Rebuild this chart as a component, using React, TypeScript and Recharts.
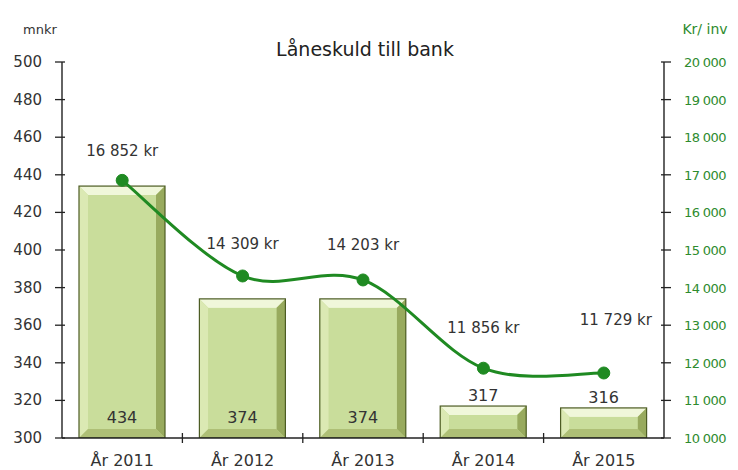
import React from 'react'
import { ComposedChart, Bar, Line, XAxis, YAxis, LabelList } from 'recharts'

const years = ['År 2011', 'År 2012', 'År 2013', 'År 2014', 'År 2015']
const debt = [434, 374, 374, 317, 316]
const perCapita = [16852, 14309, 14203, 11856, 11729]
const leftTicks = [300, 320, 340, 360, 380, 400, 420, 440, 460, 480, 500]
const rightTicks = [10000, 11000, 12000, 13000, 14000, 15000, 16000, 17000, 18000, 19000, 20000]

// Excel put the line labels at uneven heights above the points
const lineLabelLift = [24, 27, 30, 35, 48]
const lineLabelShift = [0, 0, 0, 0, 12]

const data = years.map((year, i) => ({ year, debt: debt[i], perCapita: perCapita[i] }))

const W = 738
const H = 470
const LEFT = 62
const RIGHT = 74
const TOP = 62
const BOTTOM = 32
const band = (W - LEFT - RIGHT) / years.length

const FONT = '"DejaVu Sans", Verdana, sans-serif'
const GREEN = '#1f8a22'
const TEXT = '#333'

const fmt = (v: number) => v.toLocaleString('en-US').replace(/,/g, ' ')

// Excel-like smoothed line (Catmull-Rom through the points)
function smoothCurve(context: any) {
  let pts: number[][] = []
  return {
    areaStart() {},
    areaEnd() {},
    lineStart() {
      pts = []
    },
    point(x: number, y: number) {
      pts.push([+x, +y])
    },
    lineEnd() {
      if (!pts.length) return
      context.moveTo(pts[0][0], pts[0][1])
      for (let i = 0; i < pts.length - 1; i++) {
        const p0 = pts[i - 1] || pts[i]
        const p1 = pts[i]
        const p2 = pts[i + 1]
        const p3 = pts[i + 2] || p2
        context.bezierCurveTo(
          p1[0] + (p2[0] - p0[0]) / 6,
          p1[1] + (p2[1] - p0[1]) / 6,
          p2[0] - (p3[0] - p1[0]) / 6,
          p2[1] - (p3[1] - p1[1]) / 6,
          p2[0],
          p2[1]
        )
      }
    },
  }
}

function BevelBar(props: any) {
  const { x, y, width, height } = props
  if (!height || height <= 0) return null
  const b = Math.min(9, height / 3)
  return (
    <g>
      <rect x={x} y={y} width={width} height={height} fill="#c4d993" />
      <polygon points={`${x},${y} ${x + width},${y} ${x + width - b},${y + b} ${x + b},${y + b}`} fill="#f0f7da" />
      <polygon points={`${x},${y} ${x + b},${y + b} ${x + b},${y + height - b} ${x},${y + height}`} fill="#dbe9b3" />
      <polygon points={`${x + width},${y} ${x + width},${y + height} ${x + width - b},${y + height - b} ${x + width - b},${y + b}`} fill="#98aa5e" />
      <polygon points={`${x},${y + height} ${x + b},${y + height - b} ${x + width - b},${y + height - b} ${x + width},${y + height}`} fill="#aebf76" />
      <rect x={x + b} y={y + b} width={width - 2 * b} height={height - 2 * b} fill="#c9dd9b" />
      <rect x={x} y={y} width={width} height={height} fill="none" stroke="#4d5c24" strokeWidth={1.2} />
    </g>
  )
}

function BarValueLabel(props: any) {
  const { x, y, width, height, value } = props
  const inside = height > 40
  const ty = inside ? y + height - 15 : y - 5
  return (
    <text x={x + width / 2} y={ty} textAnchor="middle" fontFamily={FONT} fontSize={16} fill={TEXT}>
      {value}
    </text>
  )
}

function LineValueLabel(props: any) {
  const { x, y, value, index } = props
  return (
    <text
      x={x + (lineLabelShift[index] || 0)}
      y={y - lineLabelLift[index]}
      textAnchor="middle"
      fontFamily={FONT}
      fontSize={15}
      fill={TEXT}
    >
      {fmt(value)} kr
    </text>
  )
}

function LeftTick(props: any) {
  const { x, y, payload } = props
  return (
    <g>
      <line x1={x - 5} x2={x + 5} y1={y} y2={y} stroke="#222" strokeWidth={1.3} />
      <text x={x - 18} y={y} dy={5} textAnchor="end" fontFamily={FONT} fontSize={15} fill={TEXT}>
        {payload.value}
      </text>
    </g>
  )
}

function RightTick(props: any) {
  const { x, y, payload } = props
  return (
    <g>
      <line x1={x - 5} x2={x + 5} y1={y} y2={y} stroke="#222" strokeWidth={1.3} />
      <text x={x + 18} y={y} dy={5} textAnchor="start" fontFamily={FONT} fontSize={13} letterSpacing={-0.6} fill="#2e8b2e">
        {fmt(payload.value)}
      </text>
    </g>
  )
}

function CategoryTick(props: any) {
  const { x, y, payload, index } = props
  const edge = x + band / 2
  return (
    <g>
      {index < years.length - 1 && (
        <line x1={edge} x2={edge} y1={y - 7} y2={y + 3} stroke="#222" strokeWidth={1.3} />
      )}
      <text x={x} y={y + 26} textAnchor="middle" fontFamily={FONT} fontSize={16} fill={TEXT}>
        {payload.value}
      </text>
    </g>
  )
}

export default function App() {
  return (
    <div style={{ position: 'absolute', left: 0, top: 0, width: W, height: H, background: '#fff' }}>
      <ComposedChart
        width={W}
        height={H}
        data={data}
        margin={{ top: TOP, right: 0, bottom: 0, left: 0 }}
      >
        <XAxis
          dataKey="year"
          height={BOTTOM}
          tickLine={false}
          tickSize={0}
          axisLine={{ stroke: '#222', strokeWidth: 1.4 }}
          tick={<CategoryTick />}
          interval={0}
        />
        <YAxis
          yAxisId="left"
          width={LEFT}
          domain={[300, 500]}
          ticks={leftTicks}
          interval={0}
          tickLine={false}
          tickSize={0}
          axisLine={{ stroke: '#222', strokeWidth: 1.4 }}
          tick={<LeftTick />}
          allowDataOverflow
        />
        <YAxis
          yAxisId="right"
          orientation="right"
          width={RIGHT}
          domain={[10000, 20000]}
          ticks={rightTicks}
          interval={0}
          tickLine={false}
          tickSize={0}
          axisLine={{ stroke: '#222', strokeWidth: 1.4 }}
          tick={<RightTick />}
        />
        <Bar yAxisId="left" dataKey="debt" barSize={86} shape={<BevelBar />} isAnimationActive={false}>
          <LabelList dataKey="debt" content={<BarValueLabel />} />
        </Bar>
        <Line
          yAxisId="right"
          type={smoothCurve as any}
          dataKey="perCapita"
          stroke={GREEN}
          strokeWidth={3}
          dot={{ r: 6, fill: GREEN, stroke: GREEN, strokeWidth: 1 }}
          activeDot={false}
          isAnimationActive={false}
        >
          <LabelList dataKey="perCapita" content={<LineValueLabel />} />
        </Line>
        <text x={365} y={56} textAnchor="middle" fontFamily={FONT} fontSize={19} fill="#222">
          Låneskuld till bank
        </text>
        <text x={40} y={34} textAnchor="middle" fontFamily={FONT} fontSize={13} fill={TEXT}>
          mnkr
        </text>
        <text x={705} y={34} textAnchor="middle" fontFamily={FONT} fontSize={14} fill="#2e8b2e">
          Kr/ inv
        </text>
      </ComposedChart>
    </div>
  )
}
